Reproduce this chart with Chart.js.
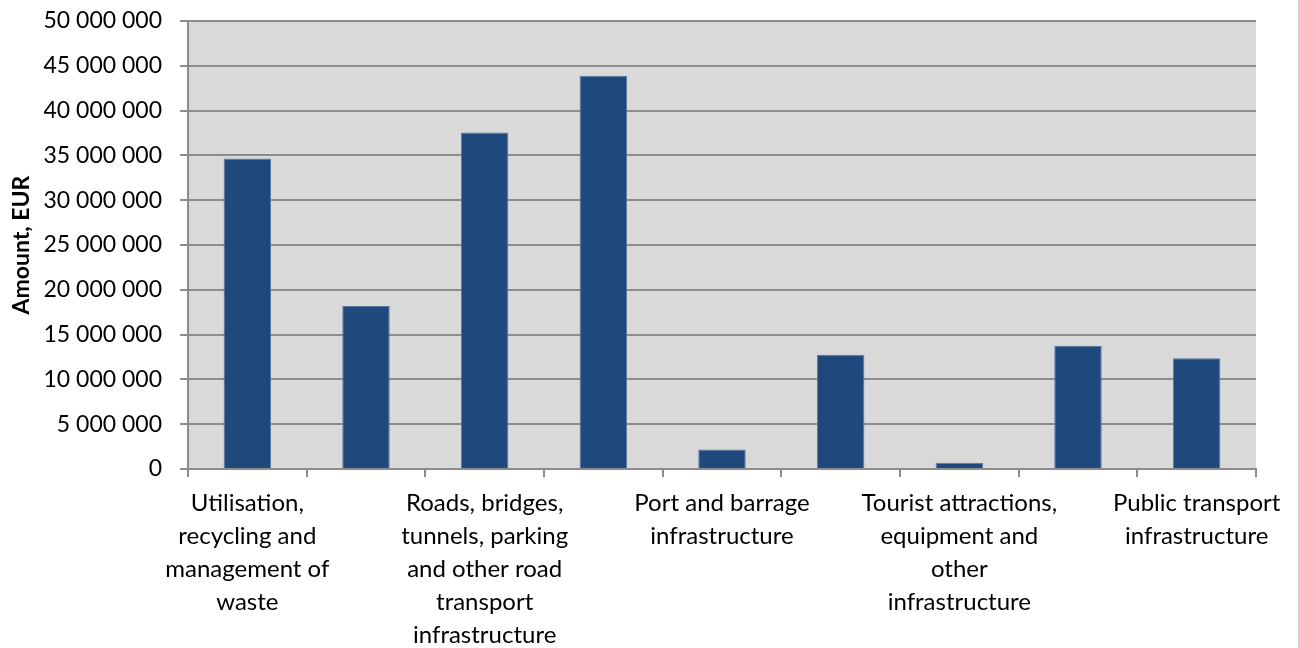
<!DOCTYPE html>
<html>
<head>
<meta charset="utf-8">
<script src="https://cdn.jsdelivr.net/npm/chart.js@4"></script>
<style>
  body { margin: 0; background: #fff; }
  #wrap { width: 1298px; height: 648px; border-right: 1px solid #d4d4d4; }
</style>
</head>
<body>
<div id="wrap"><canvas id="myBarChart" width="1298" height="648"></canvas></div>
<script>
// categories: only every second one carries a label in the source chart
const categories = [
  ["Utilisation,", "recycling and", "management of", "waste"],
  "",
  ["Roads, bridges,", "tunnels, parking", "and other road", "transport", "infrastructure"],
  "",
  ["Port and barrage", "infrastructure"],
  "",
  ["Tourist attractions,", "equipment and", "other", "infrastructure"],
  "",
  ["Public transport", "infrastructure"],
];
const amounts = [34650000, 18200000, 37550000, 43900000, 2180000, 12750000, 700000, 13750000, 12350000];
const yTicks = [0, 5000000, 10000000, 15000000, 20000000, 25000000, 30000000, 35000000, 40000000, 45000000, 50000000];

const formatSpaces = (v) => v.toString().replace(/\B(?=(\d{3})+(?!\d))/g, " ");

let ctx = document.getElementById("myBarChart").getContext("2d");
let myBarChart = new Chart(ctx, {
  type: "bar",
  data: {
    labels: categories,
    datasets: [
      {
        label: "Amount, EUR",
        data: amounts,
        backgroundColor: "#1F497D",
        borderColor: "#5a7aa3",
        borderWidth: 1,
        barPercentage: 0.4,
        categoryPercentage: 1,
      },
    ],
  },
  options: {
    responsive: false,
    animation: false,
    layout: { padding: { top: 21, right: 42, bottom: 0, left: 0 } },
    plugins: {
      legend: { display: false },
      tooltip: { enabled: false },
    },
    scales: {
      x: {
        grid: {
          drawOnChartArea: false,
          drawTicks: true,
          tickLength: 8,
          color: "#8c8c8c",
          lineWidth: 2,
          offset: true,
        },
        border: { color: "#8c8c8c", width: 2 },
        ticks: {
          autoSkip: false,
          maxRotation: 0,
          minRotation: 0,
          padding: 10,
          color: "#000",
          font: { family: "Lato", size: 24, lineHeight: 1.375 },
        },
        afterFit: (scale) => {
          scale.height = 179;
          scale.paddingLeft = 0;
          scale.paddingRight = 0;
        },
      },
      y: {
        min: 0,
        max: 50000000,
        afterBuildTicks: (scale) => { scale.ticks = yTicks.map((v) => ({ value: v })); },
        grid: {
          color: "#8c8c8c",
          lineWidth: 2,
          tickLength: 8,
        },
        border: { color: "#8c8c8c", width: 2 },
        ticks: {
          padding: 18,
          color: "#000",
          font: { family: "Lato", size: 23 },
          callback: (value) => formatSpaces(value),
        },
        title: {
          display: true,
          text: "Amount, EUR",
          color: "#000",
          padding: { top: 8, bottom: 0 },
          font: { family: "Lato", size: 23, weight: "bold" },
        },
        afterFit: (scale) => {
          scale.width = 188;
          scale.paddingTop = 0;
          scale.paddingBottom = 0;
        },
      },
    },
  },
  plugins: [
    {
      id: "plotBg",
      beforeDraw: (chart) => {
        const a = chart.chartArea;
        chart.ctx.save();
        chart.ctx.fillStyle = "#d9d9d9";
        chart.ctx.fillRect(a.left, a.top, a.right - a.left, a.bottom - a.top);
        chart.ctx.restore();
      },
    },
  ],
});
</script>
</body>
</html>
